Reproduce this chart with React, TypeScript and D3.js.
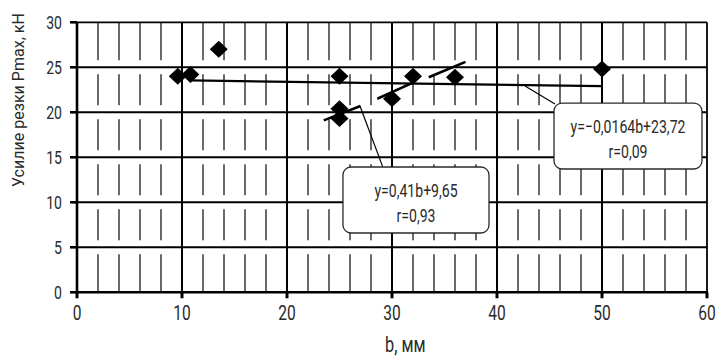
import React from "react";
import * as d3 from "d3";

// measured points: b (mm) vs Pmax (kN)
const bValues = [9.6, 10.8, 13.5, 25, 25, 25, 30, 32, 36, 50];
const pValues = [24, 24.2, 27, 24, 20.4, 19.3, 21.5, 24, 23.9, 24.8];

// trend 1: y=-0,0164b+23,72 (as drawn)
const trend1B = [10.8, 50];
const trend1P = [23.54, 22.9];

// trend 2: y=0,41b+9,65, drawn in three pieces
const trend2B = [[23.5, 27], [28.6, 32], [33.5, 37]];
const trend2P = [[19.1, 20.7], [21.5, 23.3], [23.9, 25.6]];

const xTicks = [0, 10, 20, 30, 40, 50, 60];
const yTicks = [0, 5, 10, 15, 20, 25, 30];

const note1Lines = ["y=−0,0164b+23,72", "r=0,09"];
const note2Lines = ["y=0,41b+9,65", "r=0,93"];

const W = 719, H = 358;
const FONT = "Roboto, 'Noto Sans', sans-serif";
const INK = "#2a2a2a";
const SX = 0.74; // narrow drafting-style lettering

function Txt({ x, y, size, anchor = "start", children }: { x: number; y: number; size: number; anchor?: string; children: React.ReactNode }) {
  return (
    <text transform={`translate(${x},${y}) scale(${SX},1)`} textAnchor={anchor}
      fontSize={size} fill={INK} fontFamily={FONT}>{children}</text>
  );
}

export default function App() {
  const x = d3.scaleLinear().domain([0, 60]).range([77, 707]);
  const y = d3.scaleLinear().domain([0, 30]).range([292.3, 22.3]);

  const minorX = d3.range(2, 60, 2).filter(v => v % 10 !== 0);
  const bands = d3.range(0, 30, 5);

  const line = d3.line<[number, number]>().x(d => x(d[0])).y(d => y(d[1]));

  const diamond = (cx: number, cy: number) => {
    const rx = 9, ry = 8.5;
    return `M${cx},${cy - ry}L${cx + rx},${cy}L${cx},${cy + ry}L${cx - rx},${cy}Z`;
  };

  // annotation boxes in data units
  const box1 = { x0: 45.43, x1: 59.52, y0: 21.03, y1: 13.7 };
  const box2 = { x0: 25.33, x1: 39.24, y0: 13.92, y1: 6.59 };
  const lead1: [number, number][] = [[42.67, 22.92], [45.52, 20.92]];
  const lead2: [number, number][] = [[26.95, 20.7], [29.11, 13.96]];

  const box = (b: typeof box1, lines: string[], key: string) => {
    const bx = x(b.x0), by = y(b.y0), bw = x(b.x1) - x(b.x0), bh = y(b.y1) - y(b.y0);
    return (
      <g key={key}>
        <rect x={bx} y={by} width={bw} height={bh} rx={8} fill="#fff" stroke={INK} strokeWidth={1.3} />
        {lines.map((t, i) => (
          <Txt key={i} x={bx + bw / 2} y={by + 30 + i * 25} anchor="middle" size={19}>{t}</Txt>
        ))}
      </g>
    );
  };

  return (
    <svg width={W} height={H} style={{ position: "absolute", left: 0, top: 0, background: "#fff" }}>
      {/* minor dashed verticals */}
      {minorX.map(v => bands.map(b0 => {
        const top = y(b0 + 5) + (b0 + 5 === 30 ? 0 : 7);
        const bot = y(b0) - (b0 === 0 ? 0 : 7);
        return <line key={`${v}-${b0}`} x1={x(v)} x2={x(v)} y1={top} y2={bot} stroke={INK} strokeWidth={1.4} />;
      }))}
      {/* major grid */}
      {xTicks.slice(1, -1).map(v => (
        <line key={`gx${v}`} x1={x(v)} x2={x(v)} y1={y(30)} y2={y(0)} stroke="#000" strokeWidth={2} />
      ))}
      {yTicks.slice(1, -1).map(v => (
        <line key={`gy${v}`} x1={x(0)} x2={x(60)} y1={y(v)} y2={y(v)} stroke="#000" strokeWidth={2} />
      ))}
      {/* frame */}
      <line x1={x(0)} x2={x(60)} y1={y(30)} y2={y(30)} stroke="#000" strokeWidth={1.8} />
      <line x1={x(60)} x2={x(60)} y1={y(30)} y2={y(0)} stroke="#000" strokeWidth={1.8} />
      <line x1={x(0)} x2={x(0)} y1={y(30)} y2={y(0) + 1} stroke="#000" strokeWidth={2.6} />
      <line x1={x(0) - 1} x2={x(60) + 1} y1={y(0)} y2={y(0)} stroke="#000" strokeWidth={2.6} />
      {/* ticks */}
      {yTicks.map(v => (
        <line key={`ty${v}`} x1={x(0) - 7} x2={x(0)} y1={y(v)} y2={y(v)} stroke="#000" strokeWidth={2.6} />
      ))}
      {xTicks.map(v => (
        <line key={`tx${v}`} x1={x(v)} x2={x(v)} y1={y(0)} y2={y(0) + 6} stroke="#000" strokeWidth={3} />
      ))}
      {/* tick labels */}
      {yTicks.map(v => (
        <Txt key={`ly${v}`} x={62} y={y(v) + 7} anchor="end" size={19}>{v}</Txt>
      ))}
      {xTicks.map(v => (
        <Txt key={`lx${v}`} x={x(v)} y={320} anchor="middle" size={21}>{v}</Txt>
      ))}
      {/* axis titles */}
      <text transform="translate(24,100) rotate(-90)" textAnchor="middle" fontSize={17} fill={INK} fontFamily={FONT}
        textLength={174} lengthAdjust="spacingAndGlyphs">
        Усилие резки Pmax, кН
      </text>
      <Txt x={385} y={352} size={22}>b, мм</Txt>
      {/* trend lines */}
      <path d={line([[trend1B[0], trend1P[0]], [trend1B[1], trend1P[1]]]) || ""} stroke="#000" strokeWidth={2.2} fill="none" />
      {trend2B.map((seg, i) => (
        <path key={`t2${i}`} d={line([[seg[0], trend2P[i][0]], [seg[1], trend2P[i][1]]]) || ""}
          stroke="#000" strokeWidth={2.6} fill="none" />
      ))}
      {/* points */}
      {bValues.map((b, i) => (
        <path key={`p${i}`} d={diamond(x(b), y(pValues[i]))} fill="#000" />
      ))}
      {/* leaders + notes */}
      <path d={line(lead1) || ""} stroke="#000" strokeWidth={1.2} fill="none" />
      <path d={line(lead2) || ""} stroke="#000" strokeWidth={1.2} fill="none" />
      {box(box1, note1Lines, "n1")}
      {box(box2, note2Lines, "n2")}
    </svg>
  );
}
